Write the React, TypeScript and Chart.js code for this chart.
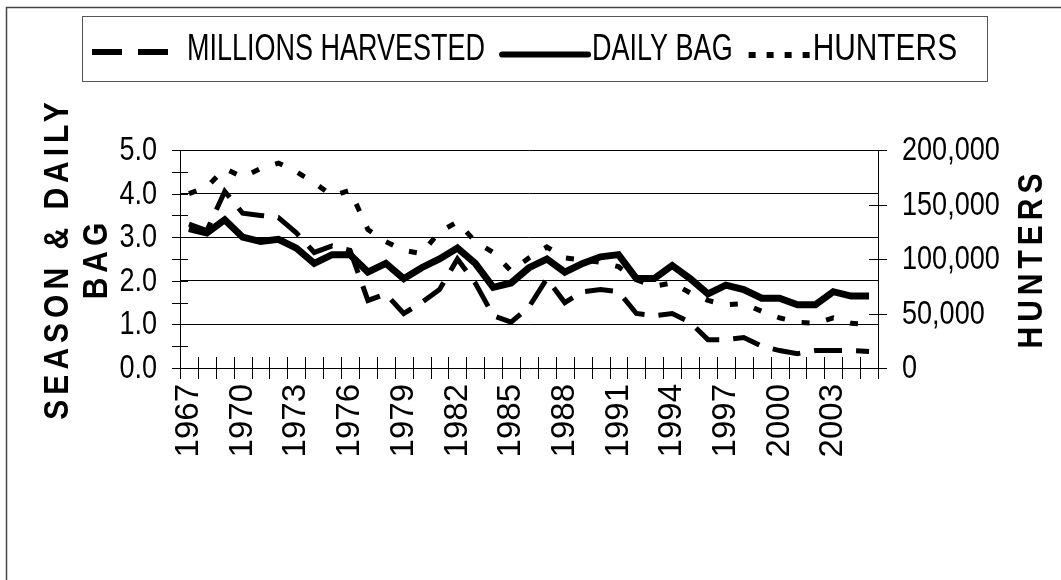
import React, { useEffect, useRef } from 'react';
import { Chart, registerables } from 'chart.js';

Chart.register(...registerables);

const years = [
  '1967', '1968', '1969', '1970', '1971', '1972', '1973', '1974', '1975', '1976',
  '1977', '1978', '1979', '1980', '1981', '1982', '1983', '1984', '1985', '1986',
  '1987', '1988', '1989', '1990', '1991', '1992', '1993', '1994', '1995', '1996',
  '1997', '1998', '1999', '2000', '2001', '2002', '2003', '2004', '2005',
];

const millionsHarvested = [
  3.3, 3.15, 4.05, 3.55, 3.5, 3.45, 3.1, 2.65, 2.8, 2.7,
  1.55, 1.7, 1.25, 1.5, 1.8, 2.5, 1.95, 1.2, 1.05, 1.4,
  2.05, 1.5, 1.75, 1.8, 1.75, 1.25, 1.2, 1.25, 1.05, 0.65,
  0.65, 0.7, 0.5, 0.4, 0.33, 0.4, 0.4, 0.4, 0.38,
];

const dailyBag = [
  3.2, 3.1, 3.4, 3.0, 2.9, 2.95, 2.75, 2.4, 2.6, 2.6,
  2.2, 2.4, 2.05, 2.3, 2.5, 2.75, 2.4, 1.85, 1.95, 2.3,
  2.5, 2.2, 2.4, 2.55, 2.6, 2.05, 2.05, 2.35, 2.05, 1.7,
  1.9, 1.8, 1.6, 1.6, 1.45, 1.45, 1.75, 1.65, 1.65,
];

const hunters = [
  160000, 166000, 183000, 175000, 183000, 188000, 180000, 170000, 158000, 163000,
  127000, 116000, 108000, 105000, 125000, 134000, 116000, 106000, 89000, 101000,
  111000, 101000, 99000, 97000, 93000, 81000, 75000, 78000, 69000, 62000,
  58000, 59000, 52000, 46000, 42000, 41000, 46000, 41000, 40000,
];

const seriesNames = ['MILLIONS HARVESTED', 'DAILY BAG', 'HUNTERS'];
const leftTitleLines = ['SEASON & DAILY', 'BAG'];
const rightTitle = 'HUNTERS';

const REGULAR = "'Liberation Sans', Arial, sans-serif";
const NARROW_X = 0.82; // horizontal condensing of upright tick text
const LEGEND_X = 0.75; // horizontal condensing of legend text

const HARVEST_DASH = [28, 14];
const HUNTER_DASH = [8, 17];

const fmtLeft = (v: number) => Number(v).toFixed(1);
const fmtRight = (v: number) => Number(v).toLocaleString('en-US');

const decorPlugin = {
  id: 'decor',
  beforeDatasetsDraw(chart: any) {
    const { ctx, chartArea: ca, scales } = chart;
    const x = scales.x;
    const y = scales.y;
    const y2 = scales.y2;
    ctx.save();
    ctx.strokeStyle = '#000';
    ctx.lineWidth = 1;
    ctx.beginPath();
    for (let k = 0; k <= 10; k++) {
      const py = Math.round(y.getPixelForValue(k * 0.5)) + 0.5;
      ctx.moveTo(ca.left - 8, py);
      ctx.lineTo(ca.left + 8, py);
    }
    for (let k = 0; k <= 4; k++) {
      const py = Math.round(y2.getPixelForValue(k * 50000)) + 0.5;
      ctx.moveTo(ca.right - 9, py);
      ctx.lineTo(ca.right + 9, py);
    }
    const n = years.length;
    for (let i = 0; i <= n; i++) {
      const px = Math.round(x.getPixelForValue(i - 0.5)) + 0.5;
      ctx.moveTo(px, ca.bottom - 11);
      ctx.lineTo(px, ca.bottom + 11);
    }
    ctx.stroke();

    // condensed y tick labels
    ctx.fillStyle = '#000';
    ctx.font = `33px ${REGULAR}`;
    ctx.textBaseline = 'middle';
    const drawH = (text: string, ax: number, ay: number, align: CanvasTextAlign) => {
      ctx.save();
      ctx.translate(ax, ay);
      ctx.scale(NARROW_X, 1);
      ctx.textAlign = align;
      ctx.fillText(text, 0, 1);
      ctx.restore();
    };
    y.ticks.forEach((t: any) => drawH(fmtLeft(t.value), ca.left - 23, y.getPixelForValue(t.value), 'right'));
    y2.ticks.forEach((t: any) => drawH(fmtRight(t.value), ca.right + 24, y2.getPixelForValue(t.value), 'left'));
    ctx.restore();
  },
  afterDraw(chart: any) {
    const { ctx, chartArea: ca } = chart;
    const cy = (ca.top + ca.bottom) / 2 + 2;
    ctx.save();
    // outer frame (left and top edges visible)
    ctx.strokeStyle = '#444';
    ctx.lineWidth = 1.5;
    ctx.beginPath();
    ctx.moveTo(6.5, 580);
    ctx.lineTo(6.5, 7.5);
    ctx.lineTo(1061, 7.5);
    ctx.stroke();

    // axis titles (rotated, letter-spaced, bold)
    ctx.fillStyle = '#000';
    ctx.textAlign = 'center';
    ctx.textBaseline = 'middle';
    ctx.font = `bold 30px ${REGULAR}`;
    const ls = 5;
    (ctx as any).letterSpacing = `${ls}px`;
    const drawRot = (text: string, cx: number) => {
      ctx.save();
      ctx.translate(cx, cy);
      ctx.rotate(-Math.PI / 2);
      ctx.scale(1, 1.15);
      ctx.fillText(text, ls / 2, 1);
      ctx.restore();
    };
    drawRot(leftTitleLines[0], 57);
    drawRot(leftTitleLines[1], 96);
    drawRot(rightTitle, 1031);
    (ctx as any).letterSpacing = '0px';

    // legend
    ctx.strokeStyle = '#555';
    ctx.lineWidth = 1;
    ctx.strokeRect(82.5, 16.5, 905, 65);
    ctx.font = `36px ${REGULAR}`;
    ctx.textAlign = 'left';
    ctx.textBaseline = 'alphabetic';
    const tb = 60;
    const drawText = (text: string, tx: number, sx: number) => {
      ctx.save();
      ctx.translate(tx, tb);
      ctx.scale(sx, 1);
      ctx.fillText(text, 0, 0);
      ctx.restore();
      return ctx.measureText(text).width * sx;
    };
    let lx = 92;
    ctx.strokeStyle = '#000';
    // sample 1: long dash
    ctx.lineWidth = 6;
    ctx.lineCap = 'butt';
    ctx.setLineDash([30, 16]);
    ctx.beginPath();
    ctx.moveTo(lx, 52);
    ctx.lineTo(lx + 78, 52);
    ctx.stroke();
    lx += 95;
    lx += drawText(seriesNames[0], lx, LEGEND_X) + 15;
    // sample 2: solid thick
    ctx.setLineDash([]);
    ctx.lineWidth = 6;
    ctx.lineCap = 'round';
    ctx.beginPath();
    ctx.moveTo(lx + 2, 54.5);
    ctx.lineTo(lx + 88, 54.5);
    ctx.stroke();
    lx += 92;
    lx += drawText(seriesNames[1], lx, LEGEND_X) + 16;
    // sample 3: dotted
    ctx.lineCap = 'butt';
    ctx.lineWidth = 6;
    ctx.setLineDash([7, 11]);
    ctx.beginPath();
    ctx.moveTo(lx, 55);
    ctx.lineTo(lx + 61, 55);
    ctx.stroke();
    ctx.setLineDash([]);
    lx += 64;
    drawText(seriesNames[2], lx, 0.83);
    ctx.restore();
  },
};

export default function App() {
  const ref = useRef<HTMLCanvasElement | null>(null);

  useEffect(() => {
    if (!ref.current) return;
    const chart = new Chart(ref.current, {
      type: 'line',
      data: {
        labels: years,
        datasets: [
          {
            label: seriesNames[0],
            data: millionsHarvested,
            yAxisID: 'y',
            borderColor: '#000',
            borderWidth: 5,
            borderDash: HARVEST_DASH,
            pointRadius: 0,
            fill: false,
            tension: 0,
          },
          {
            label: seriesNames[1],
            data: dailyBag,
            yAxisID: 'y',
            borderColor: '#000',
            borderWidth: 7,
            pointRadius: 0,
            fill: false,
            tension: 0,
          },
          {
            label: seriesNames[2],
            data: hunters,
            yAxisID: 'y2',
            borderColor: '#000',
            borderWidth: 5,
            borderDash: HUNTER_DASH,
            pointRadius: 0,
            fill: false,
            tension: 0,
          },
        ],
      },
      options: {
        animation: false,
        responsive: false,
        maintainAspectRatio: false,
        layout: { padding: { top: 150, left: 0, right: 0, bottom: 0 } },
        plugins: {
          legend: { display: false },
          tooltip: { enabled: false },
        },
        scales: {
          x: {
            type: 'category',
            offset: true,
            grid: { display: false, drawTicks: false },
            border: { display: false },
            ticks: {
              autoSkip: false,
              minRotation: 90,
              maxRotation: 90,
              padding: 16,
              color: '#000',
              font: { family: REGULAR, size: 33 },
              callback: (_v: any, i: number) => (i % 3 === 0 ? years[i] : ''),
            },
            afterFit: (s: any) => {
              s.height = 212;
            },
          },
          y: {
            position: 'left',
            min: 0,
            max: 5,
            ticks: {
              stepSize: 1,
              display: false,
              callback: (v: any) => fmtLeft(v),
            },
            grid: { color: '#000', lineWidth: 1, drawTicks: false },
            border: { display: true, color: '#000', width: 1 },
            afterFit: (s: any) => {
              s.width = 180;
            },
          },
          y2: {
            position: 'right',
            min: 0,
            max: 200000,
            ticks: {
              stepSize: 50000,
              display: false,
              callback: (v: any) => fmtRight(v),
            },
            grid: { display: false, drawTicks: false },
            border: { display: true, color: '#000', width: 1 },
            afterFit: (s: any) => {
              s.width = 183;
            },
          },
        },
      },
      plugins: [decorPlugin],
    });
    return () => chart.destroy();
  }, []);

  return (
    <div style={{ position: 'absolute', left: 0, top: 0, width: 1061, height: 580, background: '#fff' }}>
      <canvas ref={ref} width={1061} height={580} style={{ width: 1061, height: 580, display: 'block' }} />
    </div>
  );
}
